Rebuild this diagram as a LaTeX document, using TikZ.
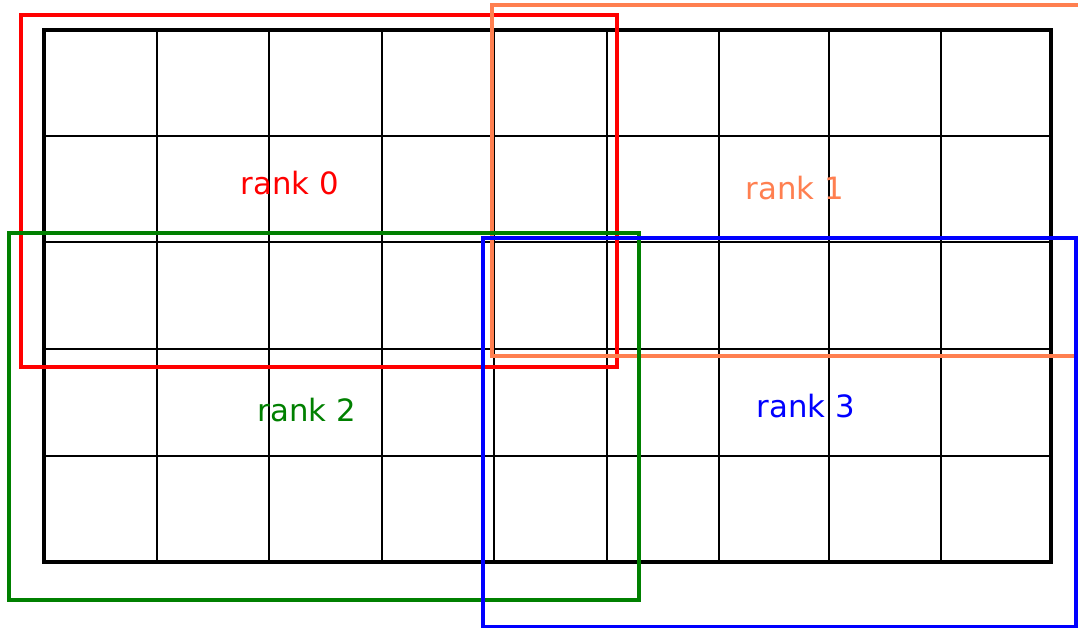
\documentclass[tikz,border=0pt]{standalone}
\usepackage{fontspec}
\setmainfont{DejaVu Sans}
\usetikzlibrary{positioning}
\definecolor{rojo}{RGB}{255,0,0}
\definecolor{naranja}{RGB}{255,127,80}
\definecolor{verde}{RGB}{0,128,0}
\definecolor{azul}{RGB}{0,0,255}

\begin{document}
\begin{tikzpicture}[x=0.02cm, y=-0.02cm,
  celda/.style={draw=black, line width=1.2pt},
  borde/.style={draw=black, line width=2.3pt},
  zona/.style={line width=1.8pt},
  etiqueta/.style={font=\fontsize{17.5}{20}\selectfont, inner sep=0pt}]
  \useasboundingbox (0,0) rectangle (1078,628);
  % cuadricula 9 x 5
  \foreach \x in {157,269,382,494,607,719,829,941}
    \draw[celda] (\x,30) -- (\x,562);
  \foreach \y in {136,242,349,456}
    \draw[celda] (44,\y) -- (1051,\y);
  \draw[borde] (44,30) rectangle (1051,562);
  % subdominios
  \draw[zona, draw=rojo] (21,15) rectangle (617,367);
  \draw[zona, draw=naranja] (492,5) rectangle (1090,356);
  \draw[zona, draw=verde] (9,233) rectangle (639,600);
  \draw[zona, draw=azul] (483,238) rectangle (1076,627);
  \node[etiqueta, text=rojo] (rank0) at (290,183) {rank 0};
  \node[etiqueta, text=naranja] (rank1) at (795,188) {rank 1};
  \node[etiqueta, text=verde] (rank2) at (307,410) {rank 2};
  \node[etiqueta, text=azul] (rank3) at (806,406) {rank 3};
\end{tikzpicture}
\end{document}
